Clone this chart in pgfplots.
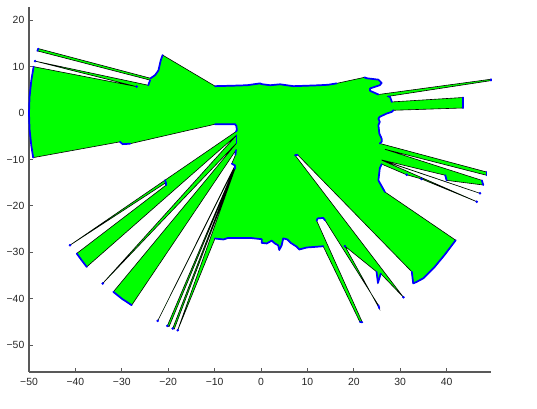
\documentclass[border=0pt]{standalone}
\usepackage{pgfplots}
\pgfplotsset{compat=1.18}
\usepackage{fontspec}
\setmainfont{Liberation Sans}
\definecolor{scan}{RGB}{0,255,0}
\definecolor{hit}{RGB}{0,0,255}
\begin{document}
\begin{tikzpicture}
\path[use as bounding box] (-21.75pt,-27.75pt) rectangle (381pt,279pt);
\begin{axis}[
  at={(0pt,0pt)}, anchor=south west,
  x=3.48pt, y=3.48pt,
  xmin=-50, xmax=49.6, ymin=-55.8, ymax=22.8,
  axis x line*=bottom, axis y line*=left,
  axis line style={draw=black!65, line width=0.9pt, -},
  tick align=inside, major tick length=3pt,
  tick style={black!65, line width=0.6pt},
  xtick={-50,-40,...,40}, ytick={-50,-40,...,20},
  xticklabels={−50,−40,−30,−20,−10,0,10,20,30,40},
  yticklabels={−50,−40,−30,−20,−10,0,10,20},
  ticklabel style={font=\fontsize{7.8}{9}\selectfont, text=black!85},
  xticklabel style={yshift=-1pt},
  clip=false,
]
% scan polygon
\addplot[fill=scan, draw=black, line width=0.45pt] coordinates {
(-49.0,10.0) (-49.51,6.96) (-49.88,3.49) (-50,0) (-49.88,-3.49) (-49.51,-6.96) (-49.1,-9.6)
(-30.4,-6.2) (-29.8,-6.7) (-28.2,-6.6)
(-9.9,-2.4) (-5.6,-2.4) (-5.3,-2.8) (-5.2,-3.7) (-5.4,-4.0)
(-20.69,-14.46) (-41.16,-28.47) (-20.5,-15.0) (-20.47,-15.54)
(-39.72,-30.26) (-38.70,-31.66) (-37.56,-33.15)
(-5.3,-4.8) (-34.12,-36.72) (-5.3,-6.5)
(-31.83,-38.53) (-29.94,-40.04) (-27.87,-41.40)
(-5.4,-8.0) (-5.5,-9.0) (-6.3,-10.9) (-5.6,-11.3)
(-22.26,-44.78) (-5.6,-11.5)
(-20.19,-45.86) (-19.8,-46.0) (-5.6,-11.7)
(-19.03,-46.42) (-18.7,-46.55) (-5.6,-12.0)
(-17.95,-46.79)
(-9.91,-27.03) (-8.12,-27.24) (-7.05,-26.9) (-2.37,-26.9) (0.15,-27.18) (0.15,-27.97)
(1.23,-28.1) (2.3,-27.5) (3.0,-28.1) (3.7,-28.5) (3.94,-29.5) (4.45,-28.5) (4.8,-27.0)
(5.67,-27.24) (6.4,-27.97) (7.69,-28.8) (8.25,-29.4) (9.85,-28.97) (13.4,-28.7)
(21.3,-45.0) (21.84,-45.1)
(12.0,-23.2) (12.2,-22.7) (13.4,-22.6) (13.8,-23.1)
(25.3,-41.4) (25.5,-42.1)
(18.1,-28.7)
(24.9,-34.2) (25.2,-36.6) (25.8,-34.6)
(30.7,-39.7)
(7.33,-9.07) (7.9,-9.0)
(32.5,-34.2) (32.8,-36.7) (33.5,-36.4) (35.0,-35.6) (37.45,-33.13) (39.67,-30.44) (41.96,-27.4)
(26.7,-17.0) (25.3,-14.5) (25.6,-11.9) (26.0,-11.0)
(31.4,-13.3) (34.6,-14.2) (46.5,-19.1)
(26.0,-10.15) (47.2,-17.3) (26.0,-10.1)
(39.7,-13.4) (40.0,-14.5) (47.9,-15.5) (47.6,-14.5)
(26.7,-7.8) (48.6,-13.4) (48.6,-12.7)
(25.6,-6.55) (26.0,-6.2) (26.0,-5.5) (25.5,-4.4) (25.3,-2.6) (25.6,-1.9) (25.3,-1.2) (25.6,-0.8)
(27.1,-0.1) (28.2,0.26) (28.5,0.6)
(43.6,1.1) (43.6,3.36)
(28.2,2.4) (27.8,3.5) (27.4,3.6)
(49.6,7.0) (49.6,7.3)
(25.3,4.0) (23.5,4.8) (23.5,5.3) (25.6,6.0) (26.0,6.5) (25.3,7.2) (22.8,7.5) (22.3,7.7)
(16.3,6.4) (14.5,6.1) (12.7,6.0) (10,5.9) (7.0,5.8) (5.5,6.0) (4.1,6.2) (2,6.0) (0.15,6.23)
(-0.2,6.4) (-3,6.0) (-6,5.9) (-9.9,5.8)
(-21.2,12.5) (-21.6,11.4) (-22.1,9.2) (-22.8,8.2) (-23.8,7.5)
(-48.0,13.9) (-48.2,13.4)
(-23.9,7.1) (-24.3,6.0)
(-48.7,11.2) (-26.8,5.7)
} -- cycle;
% wall hits
\pgfplotsset{wall/.style={draw=hit, line width=1.3pt, line join=round, line cap=round}}
\addplot[wall] coordinates {(-49.0,10.0) (-49.51,6.96) (-49.88,3.49) (-50,0) (-49.88,-3.49) (-49.51,-6.96) (-49.1,-9.6)};
\addplot[wall] coordinates {(-30.4,-6.2) (-29.8,-6.7) (-28.2,-6.6)};
\addplot[wall] coordinates {(-9.9,-2.4) (-5.6,-2.4) (-5.3,-2.8) (-5.2,-3.7) (-5.4,-4.0)};
\addplot[wall] coordinates {(-20.69,-14.46) (-20.5,-15.0) (-20.47,-15.54)};
\addplot[wall] coordinates {(-39.72,-30.26) (-38.70,-31.66) (-37.56,-33.15)};
\addplot[wall] coordinates {(-31.83,-38.53) (-29.94,-40.04) (-27.87,-41.40)};
\addplot[wall] coordinates {(-5.3,-4.8) (-5.3,-6.5)};
\addplot[wall] coordinates {(-5.4,-8.0) (-5.5,-9.0)};
\addplot[wall] coordinates {(-6.3,-10.9) (-5.6,-11.3) (-5.6,-12.0)};
\addplot[wall] coordinates {(-9.91,-27.03) (-8.12,-27.24) (-7.05,-26.9) (-2.37,-26.9) (0.15,-27.18) (0.15,-27.97)
(1.23,-28.1) (2.3,-27.5) (3.0,-28.1) (3.7,-28.5) (3.94,-29.5) (4.45,-28.5) (4.8,-27.0)
(5.67,-27.24) (6.4,-27.97) (7.69,-28.8) (8.25,-29.4) (9.85,-28.97) (13.4,-28.7)};
\addplot[wall] coordinates {(21.3,-45.0) (21.84,-45.1)};
\addplot[wall] coordinates {(12.0,-23.2) (12.2,-22.7) (13.4,-22.6) (13.8,-23.1)};
\addplot[wall] coordinates {(25.3,-41.4) (25.5,-42.1)};
\addplot[wall] coordinates {(24.9,-34.2) (25.2,-36.6) (25.8,-34.6)};
\addplot[wall] coordinates {(7.33,-9.07) (7.9,-9.0)};
\addplot[wall] coordinates {(32.5,-34.2) (32.8,-36.7) (33.5,-36.4) (35.0,-35.6) (37.45,-33.13) (39.67,-30.44) (41.96,-27.4)};
\addplot[wall] coordinates {(26.7,-17.0) (25.3,-14.5) (25.6,-11.9) (26.0,-11.0)};
\addplot[wall] coordinates {(39.7,-13.4) (40.0,-14.5)};
\addplot[wall] coordinates {(47.9,-15.5) (47.6,-14.5)};
\addplot[wall] coordinates {(48.6,-13.4) (48.6,-12.7)};
\addplot[wall] coordinates {(25.6,-6.55) (26.0,-6.2) (26.0,-5.5) (25.5,-4.4) (25.3,-2.6) (25.6,-1.9) (25.3,-1.2) (25.6,-0.8)
(27.1,-0.1) (28.2,0.26) (28.5,0.6)};
\addplot[wall] coordinates {(43.6,1.1) (43.6,3.36)};
\addplot[wall] coordinates {(28.2,2.4) (27.8,3.5) (27.4,3.6)};
\addplot[wall] coordinates {(49.6,7.0) (49.6,7.3)};
\addplot[wall] coordinates {(25.3,4.0) (23.5,4.8) (23.5,5.3) (25.6,6.0) (26.0,6.5) (25.3,7.2) (22.8,7.5) (22.3,7.7)};
\addplot[wall] coordinates {(16.3,6.4) (14.5,6.1) (12.7,6.0) (10,5.9) (7.0,5.8) (5.5,6.0) (4.1,6.2) (2,6.0) (0.15,6.23)
(-0.2,6.4) (-3,6.0) (-6,5.9) (-9.9,5.8)};
\addplot[wall] coordinates {(-21.2,12.5) (-21.6,11.4) (-22.1,9.2) (-22.8,8.2) (-23.8,7.5)};
\addplot[wall] coordinates {(-48.0,13.9) (-48.2,13.4)};
\addplot[wall] coordinates {(-23.9,7.1) (-24.3,6.0)};
% isolated far hits
\addplot[only marks, mark=*, mark size=0.75pt, color=hit] coordinates {
(-41.16,-28.47) (-34.12,-36.72) (-22.26,-44.78) (-20.19,-45.86) (-19.03,-46.42) (-17.95,-46.79)
(18.1,-28.7) (30.7,-39.7) (31.4,-13.3) (34.6,-14.2) (46.5,-19.1) (47.2,-17.3)
(-48.7,11.2) (-26.8,5.7)};
\end{axis}
\end{tikzpicture}
\end{document}
